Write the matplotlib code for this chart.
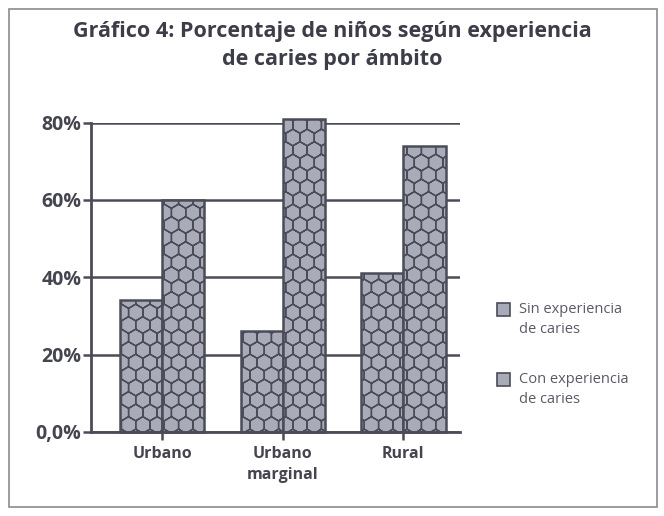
import numpy as np
import matplotlib
matplotlib.use('Agg')
import matplotlib.pyplot as plt
import matplotlib.hatch as mhatch
from matplotlib.path import Path
from matplotlib.patches import Rectangle

# data
categories = ['Urbano', 'Urbano\nmarginal', 'Rural']
series = ['Sin experiencia\nde caries', 'Con experiencia\nde caries']
sin_caries = [34, 26, 41]
con_caries = [60, 81, 74]
y_ticks = [0, 20, 40, 60, 80]
y_labels = ['0,0%', '20%', '40%', '60%', '80%']


# honeycomb hatch, used in place of the 'O' pattern
# (each edge is its own segment so the hatch fill stays empty)
class HexHatch(mhatch.HatchPatternBase):
    def __init__(self, hatch, density):
        self.num_vertices = 0
        if 'O' not in hatch:
            return
        w = 1.0 / 7
        r = 1.0 / 12
        ang = np.radians(90 + 60 * np.arange(7))
        px = np.cos(ang) * w / 2 / np.cos(np.radians(30))
        py = np.sin(ang) * r
        segs = []
        for j in range(-1, 10):
            for i in range(-1, 9):
                cx = (i + 0.5 * (j % 2)) * w
                cy = j * 1.5 * r
                for k in range(6):
                    segs.append([cx + px[k], cy + py[k]])
                    segs.append([cx + px[k + 1], cy + py[k + 1]])
        self.verts = np.array(segs)
        self.codes = np.tile([Path.MOVETO, Path.LINETO], len(segs) // 2).astype(Path.code_type)
        self.num_vertices = len(self.verts)

    def set_vertices_and_codes(self, vertices, codes):
        vertices[:] = self.verts
        codes[:] = self.codes


mhatch._hatch_types = [h for h in mhatch._hatch_types if h is not mhatch.LargeCircles] + [HexHatch]

dark = '#4b4c58'
fill = '#a9abb8'
plt.rcParams['hatch.linewidth'] = 1.0
plt.rcParams['font.family'] = ['Open Sans', 'DejaVu Sans']

fig = plt.figure(figsize=(6.64, 5.16), dpi=100)
ax = fig.add_axes([91 / 664, 1 - 432 / 516, (460 - 91) / 664, (432 - 122.5) / 516])

x = np.arange(len(categories))
bw = 0.35
for vals, off in [(sin_caries, -bw / 2), (con_caries, bw / 2)]:
    ax.bar(x + off, vals, bw, color=fill, edgecolor=dark, linewidth=1.8,
           hatch='O', zorder=3, clip_on=False)

ax.set_xlim(-0.59, 2.47)
ax.set_ylim(0, 80)
ax.set_yticks(y_ticks)
ax.set_yticklabels(y_labels, fontsize=14, fontweight='bold', color='#44454f')
ax.set_xticks(x)
ax.set_xticklabels(categories, fontsize=11.5, fontweight='bold', color='#44454f',
                   linespacing=1.45)
ax.tick_params(axis='y', length=6, width=1.8, color=dark, pad=1)
ax.tick_params(axis='x', length=6, width=1.8, color=dark, pad=4)
ax.grid(axis='y', color=dark, linewidth=1.8, zorder=0)
for s in ['top', 'right']:
    ax.spines[s].set_visible(False)
for s in ['left', 'bottom']:
    ax.spines[s].set_color(dark)
    ax.spines[s].set_linewidth(2)
    ax.spines[s].set_zorder(4)

fig.text(0.5, 1 - 31 / 516, 'Gráfico 4: Porcentaje de niños según experiencia',
         ha='center', va='center', fontsize=15.5, fontweight='bold', color='#3c3d48')
fig.text(0.5, 1 - 60 / 516, 'de caries por ámbito',
         ha='center', va='center', fontsize=15.5, fontweight='bold', color='#3c3d48')

# legend
for k, name in enumerate(series):
    top = 303 + k * 70
    fig.add_artist(Rectangle((497 / 664, 1 - (top + 13) / 516), 13 / 664, 13 / 516,
                             transform=fig.transFigure, facecolor=fill,
                             edgecolor=dark, linewidth=1.2))
    fig.text(519 / 664, 1 - (top - 1) / 516, name, ha='left', va='top',
             fontsize=10.5, color='#595a66', linespacing=1.45)

fig.add_artist(Rectangle((9 / 664, 9 / 516), 648 / 664, 498 / 516,
                         transform=fig.transFigure, fill=False,
                         edgecolor='#8a8a90', linewidth=1.2))

fig.savefig('out.png', dpi=100, facecolor='white')
